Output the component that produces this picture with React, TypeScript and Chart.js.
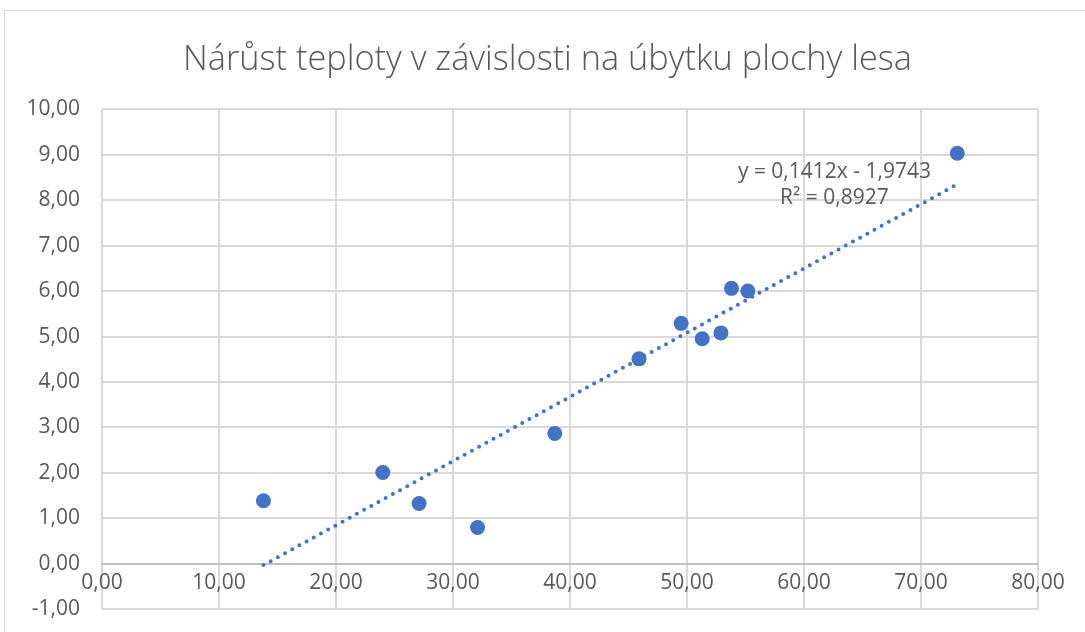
import React, { useEffect, useRef } from "react";
import { Chart, registerables } from "chart.js";

Chart.register(...registerables);

const TITLE = "Nárůst teploty v závislosti na úbytku plochy lesa";
const xValues = [13.8, 24.0, 27.1, 32.1, 38.7, 45.9, 49.5, 51.3, 52.9, 53.8, 55.2, 73.1];
const yValues = [1.39, 2.01, 1.33, 0.80, 2.87, 4.51, 5.29, 4.95, 5.08, 6.06, 6.00, 9.03];
const trendSlope = 0.1412;
const trendIntercept = -1.9743;
const trendLabel1 = "y = 0,1412x - 1,9743";
const trendLabel2 = "R² = 0,8927";
const X_MIN = 0, X_MAX = 80, X_STEP = 10;
const Y_MIN = -1, Y_MAX = 10, Y_STEP = 1;

const BLUE = "#4472C4";
const TEXT = "#595959";
const GRID = "#d9d9d9";
const FONT = "'Open Sans', sans-serif";

const fmt = (v: number) => Number(v).toFixed(2).replace(".", ",");

export default function App() {
  const ref = useRef<HTMLCanvasElement | null>(null);
  useEffect(() => {
    if (!ref.current) return;
    const pts = xValues.map((x, i) => ({ x, y: yValues[i] }));
    const xMin = Math.min(...xValues);
    const xMax = Math.max(...xValues);
    const trend = [xMin, xMax].map((x) => ({ x, y: trendSlope * x + trendIntercept }));

    const labelPlugin = {
      id: "trendLabel",
      afterDatasetsDraw(chart: any) {
        const { ctx, scales } = chart;
        const cx = scales.x.getPixelForValue(62.6);
        const y1 = scales.y.getPixelForValue(8.61);
        const y2 = scales.y.getPixelForValue(8.04);
        ctx.save();
        ctx.fillStyle = TEXT;
        ctx.font = `21px ${FONT}`;
        ctx.textAlign = "center";
        ctx.textBaseline = "middle";
        ctx.fillText(trendLabel1, cx, y1);
        ctx.fillText(trendLabel2, cx, y2);
        ctx.restore();
      },
    };

    const chart = new Chart(ref.current, {
      type: "scatter",
      data: {
        datasets: [
          {
            label: "trend",
            data: trend,
            showLine: true,
            borderColor: BLUE,
            borderWidth: 4,
            borderDash: [0, 8.2],
            borderCapStyle: "round",
            pointRadius: 0,
            pointHoverRadius: 0,
            order: 0,
          } as any,
          {
            label: "data",
            data: pts,
            backgroundColor: BLUE,
            borderColor: BLUE,
            pointRadius: 7.5,
            borderWidth: 0,
            order: 1,
          },
        ],
      },
      options: {
        animation: false,
        responsive: false,
        devicePixelRatio: 1,
        layout: { padding: { top: 0, right: 0, bottom: 23, left: 10 } },
        plugins: {
          legend: { display: false },
          tooltip: { enabled: false },
          title: {
            display: true,
            text: TITLE,
            color: TEXT,
            font: { family: FONT, size: 34.3, weight: "300" as any, lineHeight: 1.2 },
            padding: { top: 40, bottom: 28 },
          },
        },
        scales: {
          x: {
            type: "linear",
            position: { y: 0 } as any,
            min: X_MIN,
            max: X_MAX,
            grid: { color: GRID, lineWidth: 2, drawTicks: false },
            border: { display: true, color: "#bfbfbf", width: 2 },
            ticks: {
              stepSize: X_STEP,
              color: TEXT,
              font: { family: FONT, size: 21 },
              padding: 6,
              maxRotation: 0,
              callback: (v: any) => fmt(v),
            },
          },
          y: {
            type: "linear",
            position: "left",
            min: Y_MIN,
            max: Y_MAX,
            grid: { color: GRID, lineWidth: 2, drawTicks: false },
            border: { display: false },
            ticks: {
              stepSize: Y_STEP,
              color: TEXT,
              font: { family: FONT, size: 21 },
              padding: 22,
              callback: (v: any) => fmt(v),
            },
            afterFit: (scale: any) => {
              scale.width = 92;
            },
          },
          yRight: {
            type: "linear",
            axis: "y",
            position: "right",
            min: Y_MIN,
            max: Y_MAX,
            grid: { display: false },
            border: { display: false },
            ticks: { display: false },
            afterFit: (scale: any) => {
              scale.width = 47;
            },
          } as any,
        },
      },
      plugins: [labelPlugin],
    });
    return () => chart.destroy();
  }, []);

  return (
    <div style={{ position: "fixed", left: 0, top: 0, width: 1085, height: 632, overflow: "hidden", background: "#fff" }}>
      <div
        style={{
          position: "absolute",
          left: 4,
          top: 10,
          width: 1200,
          height: 700,
          border: "1.5px solid #d9d9d9",
          boxSizing: "border-box",
        }}
      />
      <canvas ref={ref} width={1085} height={644} style={{ position: "absolute", left: 0, top: 0 }} />
    </div>
  );
}
